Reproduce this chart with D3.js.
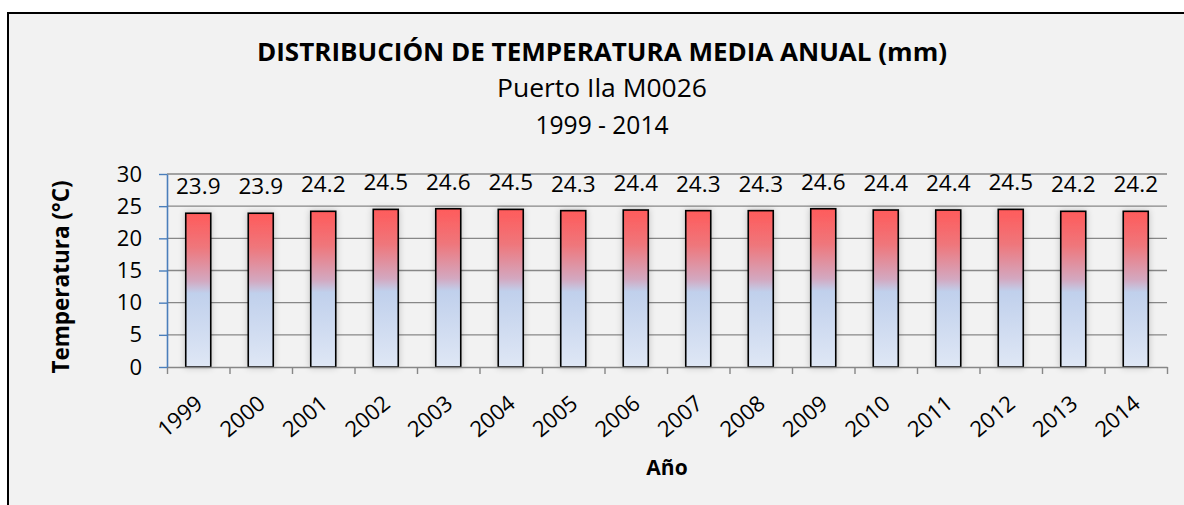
<!DOCTYPE html>
<html>
<head>
<meta charset="utf-8">
<script src="https://cdn.jsdelivr.net/npm/d3@7"></script>
<style>
html, body { margin: 0; background: #fff; overflow: hidden; }
svg { display: block; }
text { font-family: "Open Sans", "Noto Sans", sans-serif; fill: #000; }
</style>
</head>
<body>
<div id="chart"></div>
<script>
// data
const years = ["1999","2000","2001","2002","2003","2004","2005","2006","2007","2008","2009","2010","2011","2012","2013","2014"];
const temps = [23.9,23.9,24.2,24.5,24.6,24.5,24.3,24.4,24.3,24.3,24.6,24.4,24.4,24.5,24.2,24.2];
const yTicks = [0,5,10,15,20,25,30];

const width = 1184, height = 505;
const plotL = 167, plotR = 1167, plotT = 174, plotB = 367;

const svg = d3.select("#chart").append("svg").attr("width", width).attr("height", height);

// frame (only top and left edges fall inside the picture)
svg.append("rect").attr("x", 8).attr("y", 13).attr("width", width - 8).attr("height", height - 13)
  .attr("fill", "#F2F2F2");
svg.append("path").attr("d", "M8," + height + "V13H" + width)
  .attr("fill", "none").attr("stroke", "#000").attr("stroke-width", 2);

const defs = svg.append("defs");
let grad = defs.append("linearGradient").attr("id", "barGrad").attr("x1", 0).attr("y1", 0).attr("x2", 0).attr("y2", 1);
grad.append("stop").attr("offset", "0%").attr("stop-color", "#FF5B5B");
grad.append("stop").attr("offset", "22%").attr("stop-color", "#EF767B");
grad.append("stop").attr("offset", "44%").attr("stop-color", "#D3A8C0");
grad.append("stop").attr("offset", "52%").attr("stop-color", "#C0D0EC");
grad.append("stop").attr("offset", "100%").attr("stop-color", "#DFE7F5");

let shadow = defs.append("filter").attr("id", "glow").attr("x", "-50%").attr("y", "-10%").attr("width", "200%").attr("height", "120%");
shadow.append("feGaussianBlur").attr("in", "SourceAlpha").attr("stdDeviation", 3).attr("result", "b");
shadow.append("feFlood").attr("flood-color", "#000").attr("flood-opacity", 0.22);
shadow.append("feComposite").attr("in2", "b").attr("operator", "in").attr("result", "s");
let merge = shadow.append("feMerge");
merge.append("feMergeNode").attr("in", "s");
merge.append("feMergeNode").attr("in", "SourceGraphic");

const x = d3.scaleBand().domain(years).range([plotL, plotR]).paddingInner(0.6).paddingOuter(0.3);
const y = d3.scaleLinear().domain([0, 30]).range([plotB, plotT]);

// gridlines
svg.append("g").selectAll("line").data(yTicks.filter(t => t > 0)).enter().append("line")
  .attr("x1", plotL).attr("x2", plotR)
  .attr("y1", d => y(d)).attr("y2", d => y(d))
  .style("stroke", "#878787").style("stroke-width", 1.4);

// bars
svg.append("g").selectAll("rect").data(temps).enter().append("rect")
  .attr("x", (d, i) => x(years[i]))
  .attr("y", d => y(d))
  .attr("width", x.bandwidth())
  .attr("height", d => plotB - y(d))
  .attr("fill", "url(#barGrad)")
  .attr("stroke", "#000").attr("stroke-width", 1.6)
  .attr("filter", "url(#glow)");

// value labels
svg.append("g").selectAll("text").data(temps).enter().append("text")
  .attr("x", (d, i) => x(years[i]) + x.bandwidth() / 2)
  .attr("y", d => y(d) - 19)
  .attr("text-anchor", "middle")
  .style("font-size", "22.5px")
  .text(d => d.toFixed(1));

// x axis
const xEdge = d3.scaleLinear().domain([0, years.length]).range([plotL, plotR]);
let xAxis = svg.append("g").attr("transform", "translate(0," + plotB + ")")
  .call(d3.axisBottom(xEdge).tickValues(d3.range(years.length + 1)).tickSize(7).tickSizeOuter(0).tickFormat(""));
xAxis.select(".domain").style("stroke", "#878787").style("stroke-width", 1.6);
xAxis.selectAll(".tick line").style("stroke", "#878787").style("stroke-width", 1.4);

// y axis
let yAxis = svg.append("g").attr("transform", "translate(" + plotL + ",0)")
  .call(d3.axisLeft(y).tickValues(yTicks).tickSize(8).tickSizeOuter(0).tickFormat(d3.format("d")));
yAxis.select(".domain").style("stroke", "#4A7EBB").style("stroke-width", 1.6);
yAxis.selectAll(".tick line").style("stroke", "#4A7EBB").style("stroke-width", 1.4);
yAxis.selectAll(".tick text").attr("x", -25).style("font-size", "22px")
  .style("font-family", "'Open Sans', sans-serif").attr("fill", "#000");

// x tick labels
svg.append("g").selectAll("text").data(years).enter().append("text")
  .attr("transform", d => "translate(" + (x(d) + x.bandwidth() / 2 + 1) + "," + (plotB + 33) + ") rotate(-40)")
  .attr("text-anchor", "end")
  .attr("dy", "0.35em")
  .style("font-size", "22px")
  .text(d => d);

// titles
svg.append("text").attr("x", 602).attr("y", 61).attr("text-anchor", "middle")
  .attr("textLength", 690).attr("lengthAdjust", "spacingAndGlyphs")
  .style("font-size", "25px").style("font-weight", "bold")
  .text("DISTRIBUCIÓN DE TEMPERATURA MEDIA ANUAL (mm)");
svg.append("text").attr("x", 602).attr("y", 97).attr("text-anchor", "middle")
  .attr("textLength", 210).attr("lengthAdjust", "spacingAndGlyphs")
  .style("font-size", "25px")
  .text("Puerto Ila M0026");
svg.append("text").attr("x", 602).attr("y", 134).attr("text-anchor", "middle")
  .attr("textLength", 133).attr("lengthAdjust", "spacingAndGlyphs")
  .style("font-size", "25px")
  .text("1999 - 2014");

svg.append("text").attr("transform", "translate(69," + 277 + ") rotate(-90)")
  .attr("text-anchor", "middle")
  .style("font-size", "22.5px").style("font-weight", "bold")
  .text("Temperatura (°C)");

svg.append("text").attr("x", (plotL + plotR) / 2).attr("y", 475).attr("text-anchor", "middle")
  .style("font-size", "21px").style("font-weight", "bold")
  .text("Año");
</script>
</body>
</html>
